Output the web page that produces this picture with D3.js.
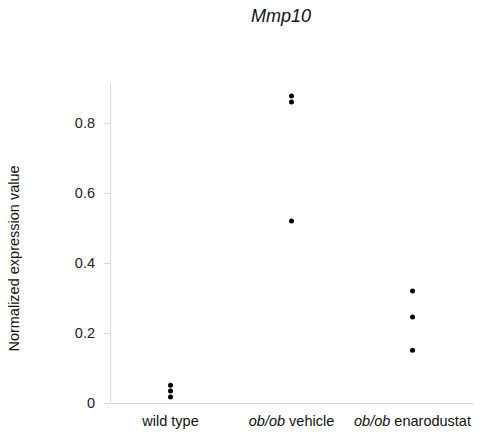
<!DOCTYPE html>
<html>
<head>
<meta charset="utf-8">
<script src="https://cdn.jsdelivr.net/npm/d3@7"></script>
<style>
  body { margin: 0; background: #fff; }
  svg { font-family: "Liberation Sans", Arial, sans-serif; }
</style>
</head>
<body>
<div id="chart"></div>
<script>
// --- data ---
var groups = ['wild type', 'ob/ob vehicle', 'ob/ob enarodustat'];
var wildType = [0.051, 0.034, 0.017];
var obVehicle = [0.877, 0.860, 0.520];
var obEnarodustat = [0.320, 0.246, 0.151];
var yTicks = [0, 0.2, 0.4, 0.6, 0.8];

var series = [wildType, obVehicle, obEnarodustat];
var points = [];
series.forEach(function(vals, i) {
  vals.forEach(function(v) { points.push({ group: groups[i], value: v }); });
});

var W = 488, H = 438;
var margin = { top: 82, right: 15, bottom: 35, left: 110 };
var width = W - margin.left - margin.right;
var height = H - margin.top - margin.bottom;

var svg = d3.select('#chart').append('svg')
  .attr('width', W).attr('height', H);

var g = svg.append('g')
  .attr('transform', 'translate(' + margin.left + ',' + margin.top + ')');

var x = d3.scaleBand().domain(groups).range([0, width]);
var y = d3.scaleLinear().domain([0, 0.917]).range([height, 0]);

// Y axis
g.append('g')
  .call(d3.axisLeft(y).tickValues(yTicks).tickSize(6).tickPadding(9)
    .tickFormat(function(d) { return d === 0 ? '0' : d3.format('.1f')(d); }))
  .call(function(a) {
    a.select('.domain').attr('stroke', '#d9d9d9').attr('d', 'M0.5,' + height + 'V0.5');
    a.selectAll('line').attr('stroke', '#d9d9d9');
    a.selectAll('text').attr('fill', '#222').attr('font-size', 14.5);
  });

// X axis
g.append('g')
  .attr('transform', 'translate(0,' + height + ')')
  .call(d3.axisBottom(x).tickSize(0).tickPadding(13))
  .call(function(a) {
    a.select('.domain').attr('stroke', '#d9d9d9');
    a.selectAll('text').attr('fill', '#111').attr('font-size', 14.5)
      .each(function(d) {
        var t = d3.select(this);
        if (d.indexOf('ob/ob ') === 0) {
          t.text(null);
          t.append('tspan').attr('font-style', 'italic').text('ob/ob');
          t.append('tspan').text(' ' + d.slice(6));
        }
      });
  });

// Points
g.selectAll('circle.pt').data(points).enter().append('circle')
  .attr('class', 'pt')
  .attr('cx', function(d) { return x(d.group) + x.bandwidth() / 2; })
  .attr('cy', function(d) { return y(d.value); })
  .attr('r', 2.5)
  .attr('fill', '#000');

// Title
svg.append('text')
  .attr('x', 281).attr('y', 22)
  .attr('text-anchor', 'middle')
  .attr('font-size', 18).attr('font-style', 'italic').attr('fill', '#111')
  .text('Mmp10');

// Y label
svg.append('text')
  .attr('transform', 'translate(19,' + (margin.top + height / 2 + 16) + ') rotate(-90)')
  .attr('text-anchor', 'middle')
  .attr('font-size', 14.5).attr('fill', '#111')
  .text('Normalized expression value');
</script>
</body>
</html>
